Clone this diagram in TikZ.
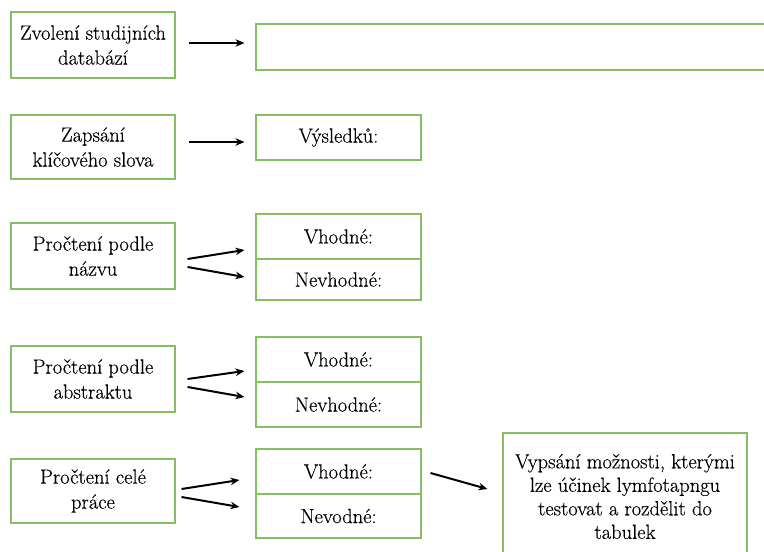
\documentclass[tikz,border=0pt]{standalone}
\usepackage{fontspec}
\newfontfamily\boxfont{Latin Modern Roman}[FakeBold=0.35]
\usetikzlibrary{arrows.meta}
\definecolor{boxgreen}{RGB}{135,190,100}
\tikzset{
  box/.style={draw=boxgreen, line width=1.1pt, rectangle, align=center, inner sep=0pt,
    font=\boxfont\fontsize{20.5}{25}\selectfont, text=black},
  lbox/.style={box, minimum width=164pt, minimum height=65pt},
  rbox/.style={box, minimum width=165pt},
  arr/.style={-{Stealth[length=9pt,width=7.5pt]}, line width=2pt, black}
}
\begin{document}
\begin{tikzpicture}[x=1pt,y=-1pt]
\useasboundingbox (0,0) rectangle (764,552);
\clip (0,0) rectangle (764,552);
\fill[white] (0,0) rectangle (764,552);
% left boxes
\node[lbox, minimum height=66pt] (b1) at (93,45) {Zvolení studijních\\databází};
\node[lbox, minimum height=64pt] (b2) at (93,147) {Zapsání\\klíčového slova};
\node[lbox, minimum height=66pt] (b3) at (93,256) {Pročtení podle\\názvu};
\node[lbox, minimum height=66pt] (b4) at (93,379) {Pročtení podle\\abstraktu};
\node[lbox, minimum height=64pt] (b5) at (93,491) {Pročtení celé\\práce};
% right boxes
\node[box, minimum width=534pt, minimum height=46pt] (r1) at (523,47) {};
\node[rbox, minimum height=45pt] (r2) at (338.5,137.5) {Výsledků:};
\node[rbox, minimum height=45pt] (r3a) at (338.5,236.5) {Vhodné:};
\node[rbox, minimum height=41pt] (r3b) at (338.5,279.5) {Nevhodné:};
\node[rbox, minimum height=45pt] (r4a) at (338.5,359.5) {Vhodné:};
\node[rbox, minimum height=45pt] (r4b) at (338.5,404.5) {Nevhodné:};
\node[rbox, minimum height=45pt] (r5a) at (338.5,471.5) {Vhodné:};
\node[rbox, minimum height=44pt] (r5b) at (338.5,516) {Nevodné:};
\node[box, minimum width=244pt, minimum height=127pt, font=\boxfont\fontsize{20.5}{23.5}\selectfont] (f) at (625,496.5)
  {Vypsání možnosti, kterými\\lze účinek lymfotapngu\\testovat a rozdělit do\\tabulek};
% arrows
\draw[arr] ([shift={(13,-2)}]b1.east) -- ([shift={(-11,-4)}]r1.west);
\draw[arr] ([shift={(13,-5)}]b2.east) -- ([shift={(-11,4.5)}]r2.west);
\draw[arr] ([shift={(12,3)}]b3.east) -- ([shift={(-11,13.5)}]r3a.west);
\draw[arr] ([shift={(12,11)}]b3.east) -- ([shift={(-11,-2.5)}]r3b.west);
\draw[arr] ([shift={(12,0)}]b4.east) -- ([shift={(-11,11.5)}]r4a.west);
\draw[arr] ([shift={(12,8)}]b4.east) -- ([shift={(-11,-7.5)}]r4b.west);
\draw[arr] ([shift={(6,-2)}]b5.east) -- ([shift={(-16,8.5)}]r5a.west);
\draw[arr] ([shift={(6,6)}]b5.east) -- ([shift={(-16,-9)}]r5b.west);
\draw[arr] ([shift={(9,1.5)}]r5a.east) -- ([shift={(-15,-7.5)}]f.west);
\end{tikzpicture}
\end{document}
